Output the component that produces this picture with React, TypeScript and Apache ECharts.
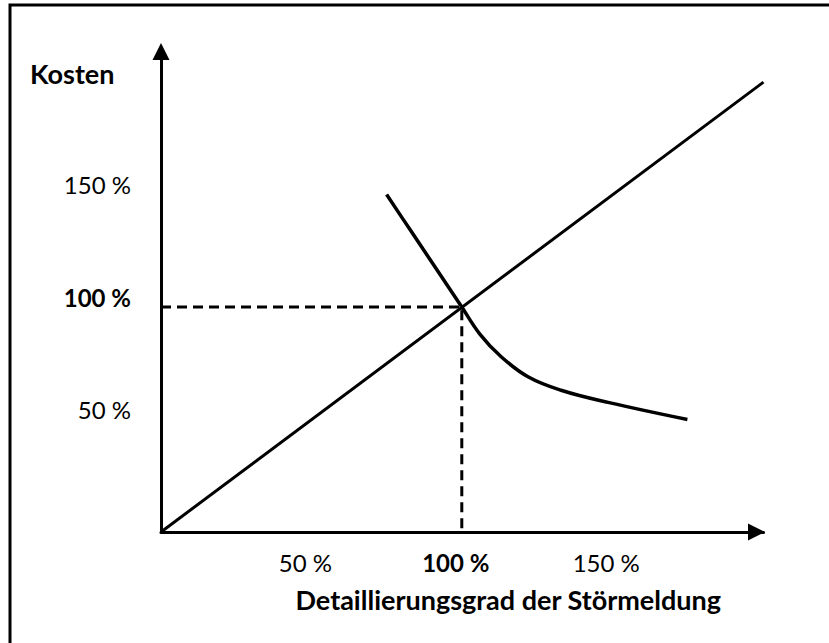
import React, { useEffect, useRef } from "react";
import * as echarts from "echarts";

const xTickValues = [50, 100, 150];
const xTickLabels = ["50 %", "100 %", "150 %"];
const yTickValues = [50, 100, 150];
const yTickLabels = ["50 %", "100 %", "150 %"];
const highlightTick = 100;

// linear cost line
const linearCost: [number, number][] = [
  [0, 0],
  [200.3, 200],
];
// falling curve
const fallingCost: [number, number][] = [
  [75, 150],
  [83, 134],
  [90, 120],
  [100, 100],
  [106, 88],
  [113, 78],
  [122, 69],
  [133, 63],
  [149, 57.5],
  [175, 50],
];
// dashed reference at 100 %
const referenceLine: [number, number][] = [
  [0, 100],
  [100, 100],
  [100, 0],
];

const yAxisName = "Kosten";
const xAxisName = "Detaillierungsgrad der Störmeldung";

const FONT = "Lato, 'Open Sans', sans-serif";

function fmt(values: number[], labels: string[]) {
  return (v: number) => {
    const i = values.indexOf(v);
    if (i < 0) return "";
    return v === highlightTick ? `{b|${labels[i]}}` : `{n|${labels[i]}}`;
  };
}

export default function App() {
  const ref = useRef<HTMLDivElement>(null);
  useEffect(() => {
    if (!ref.current) return;
    const chart = echarts.init(ref.current, undefined, { renderer: "svg" });
    const rich = {
      b: { fontFamily: FONT, fontSize: 24, fontWeight: "bold", color: "#000" },
      n: { fontFamily: FONT, fontSize: 24, fontWeight: "normal", color: "#000" },
    };
    chart.setOption({
      animation: false,
      backgroundColor: "#fff",
      title: {
        text: yAxisName,
        left: 25,
        top: 55,
        textStyle: { fontFamily: FONT, fontSize: 27, fontWeight: "bold", color: "#000" },
      },
      graphic: [
        {
          type: "polyline",
          shape: { points: [[10, 650], [10, 5], [835, 5]] },
          style: { stroke: "#000", lineWidth: 3, fill: "none" },
          silent: true,
        },
      ],
      grid: { left: 161, right: 65.5, top: 51.5, bottom: 111, containLabel: false },
      xAxis: {
        type: "value",
        min: 0,
        max: 200.3,
        interval: 50,
        splitLine: { show: false },
        axisTick: { show: false },
        axisLine: {
          show: true,
          onZero: false,
          symbol: ["none", "triangle"],
          symbolSize: [17, 17],
          symbolOffset: [0, -7],
          lineStyle: { color: "#000", width: 3 },
        },
        axisLabel: {
          margin: 18,
          formatter: fmt(xTickValues, xTickLabels),
          rich,
          padding: [0, 12, 0, 0],
          showMaxLabel: false,
          showMinLabel: false,
        },
        name: xAxisName,
        nameLocation: "middle",
        nameGap: 54,
        nameTextStyle: {
          fontFamily: FONT,
          fontSize: 27,
          fontWeight: "bold",
          color: "#000",
          padding: [0, 0, 0, 92],
        },
      },
      yAxis: {
        type: "value",
        min: 0,
        max: 213.6,
        interval: 50,
        splitLine: { show: false },
        axisTick: { show: false },
        axisLine: {
          show: true,
          onZero: false,
          symbol: ["none", "triangle"],
          symbolSize: [17, 17],
          lineStyle: { color: "#000", width: 3 },
        },
        axisLabel: {
          margin: 30,
          formatter: fmt(yTickValues, yTickLabels),
          rich,
          padding: [0, 0, 20, 0],
          showMaxLabel: false,
          showMinLabel: false,
        },
      },
      series: [
        {
          type: "line",
          data: referenceLine,
          symbol: "none",
          lineStyle: { color: "#000", width: 3, type: [10, 6] },
          silent: true,
        },
        {
          type: "line",
          data: linearCost,
          symbol: "none",
          lineStyle: { color: "#000", width: 3 },
          silent: true,
        },
        {
          type: "line",
          data: fallingCost,
          symbol: "none",
          smooth: 0.4,
          lineStyle: { color: "#000", width: 3.5 },
          silent: true,
        },
      ],
    });
    return () => chart.dispose();
  }, []);
  return (
    <div
      ref={ref}
      style={{ position: "fixed", left: 0, top: 0, width: 829, height: 643 }}
    />
  );
}
